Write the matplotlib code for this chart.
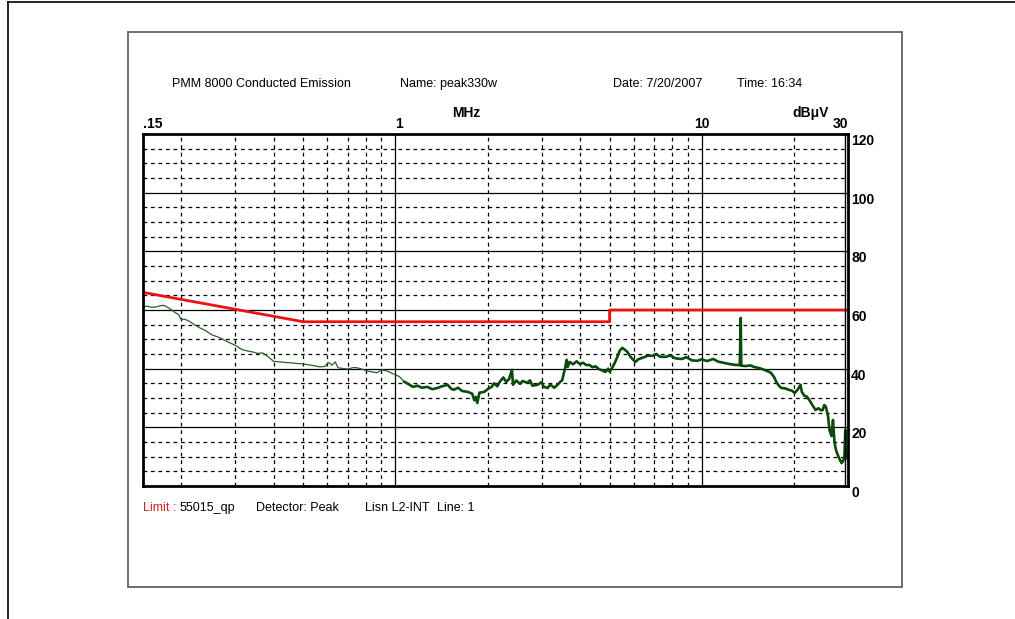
import numpy as np
import matplotlib
matplotlib.use('Agg')
from matplotlib import pyplot as plt
from matplotlib import transforms
from matplotlib.lines import Line2D
from matplotlib.patches import Rectangle

# 測定データ (MHz, dBuV) -- 画像から読み取り
freq_mhz = [0.150, 0.155, 0.160, 0.165, 0.170, 0.175, 0.180, 0.185, 0.190, 0.196,
            0.200, 0.205, 0.212, 0.220, 0.230, 0.240, 0.252, 0.260, 0.268, 0.278,
            0.288, 0.300, 0.310, 0.318, 0.330, 0.342, 0.355, 0.368, 0.378, 0.388,
            0.400, 0.420, 0.440, 0.453, 0.475, 0.500, 0.530, 0.567, 0.590, 0.600,
            0.609, 0.620, 0.636, 0.645, 0.650, 0.680, 0.700, 0.730, 0.750, 0.780,
            0.810, 0.840, 0.870, 0.900, 0.940, 0.970, 1.000, 1.030, 1.070, 1.100,
            1.140, 1.180, 1.220, 1.270, 1.320, 1.370, 1.420, 1.480, 1.520, 1.550,
            1.600, 1.650, 1.720, 1.780, 1.810, 1.830, 1.850, 1.880, 1.950, 2.000,
            2.060, 2.100, 2.150, 2.190, 2.250, 2.300, 2.350, 2.400, 2.420, 2.480,
            2.550, 2.600, 2.690, 2.750, 2.800, 2.910, 3.000, 3.050, 3.140, 3.200,
            3.300, 3.380, 3.450, 3.500, 3.550, 3.580, 3.620, 3.650, 3.700, 3.800,
            3.900, 4.000, 4.100, 4.200, 4.290, 4.400, 4.500, 4.610, 4.700, 4.850,
            4.950, 5.000, 5.100, 5.200, 5.300, 5.400, 5.500, 5.600, 5.720, 5.850,
            6.000, 6.070, 6.200, 6.400, 6.650, 6.900, 7.100, 7.300, 7.600, 7.900,
            8.200, 8.600, 8.900, 9.300, 9.700, 10.00, 10.40, 10.90, 11.30, 11.80,
            12.30, 12.80, 13.30, 13.40, 13.45, 13.90, 14.40, 14.80, 15.40, 16.00,
            16.50, 16.80, 17.20, 17.50, 17.90, 18.20, 18.70, 19.20, 19.70, 20.10,
            20.60, 21.00, 21.20, 21.60, 22.00, 22.40, 22.90, 23.50, 24.00, 24.50,
            24.80, 25.10, 25.40, 25.80, 26.10, 26.50, 26.80, 27.10, 27.40, 27.80,
            28.20, 28.60, 28.90, 29.20, 29.40, 29.60, 30.00]
level_dbuv = [61.1, 61.3, 60.9, 61.0, 61.4, 61.6, 61.0, 60.2, 59.3, 58.4,
              56.7, 56.9, 56.2, 55.1, 53.9, 53.0, 51.5, 51.0, 50.5, 49.6,
              48.8, 48.0, 47.0, 46.4, 46.0, 45.7, 45.2, 45.4, 44.6, 43.7,
              42.5, 42.3, 42.1, 42.0, 41.8, 41.6, 41.2, 40.6, 40.8, 41.9,
              42.0, 41.2, 42.3, 41.0, 40.3, 40.0, 39.9, 40.4, 40.3, 39.8,
              39.2, 38.9, 38.6, 39.6, 39.2, 38.5, 37.9, 37.3, 35.5, 34.8,
              33.8, 34.2, 33.5, 33.8, 33.0, 33.4, 34.0, 34.5, 33.2, 32.8,
              33.5, 32.4, 32.1, 31.5, 29.2, 30.4, 28.3, 31.8, 32.1, 33.0,
              33.8, 35.0, 34.0, 35.5, 37.0, 35.5, 36.5, 39.6, 34.5, 36.0,
              34.8, 35.8, 35.2, 36.0, 34.2, 34.5, 35.4, 33.8, 33.4, 34.6,
              33.5, 34.5, 35.5, 36.0, 38.8, 40.3, 43.0, 40.6, 42.3, 41.5,
              42.5, 41.6, 42.0, 41.2, 41.3, 40.5, 40.8, 39.9, 39.5, 38.9,
              40.0, 39.0, 40.3, 42.0, 44.0, 46.2, 47.1, 46.5, 45.7, 44.0,
              42.8, 42.3, 43.2, 43.7, 44.4, 44.4, 45.0, 44.1, 44.0, 44.5,
              43.5, 43.3, 43.9, 42.8, 42.7, 43.2, 42.6, 43.3, 42.4, 42.0,
              41.6, 41.3, 41.2, 57.3, 41.0, 40.9, 41.1, 40.6, 40.2, 39.6,
              39.0, 38.6, 37.2, 35.5, 34.0, 33.4, 33.3, 32.8, 32.5, 31.7,
              33.0, 34.5, 32.1, 30.8, 30.5, 29.4, 27.8, 25.9, 26.5, 25.8,
              25.9, 27.6, 27.0, 24.0, 19.1, 17.0, 22.5, 15.0, 12.3, 10.5,
              9.0, 7.8, 8.5, 9.9, 19.1, 10.5, 8.9]

# リミット 55015_qp
limit_f = [0.15, 0.5, 5.0, 5.0, 30.0]
limit_db = [66.0, 56.0, 56.0, 60.0, 60.0]

fig = plt.figure(figsize=(10.15, 6.19), dpi=100)
W, H = 1015, 619

def px(x, y):
    return x / W, 1 - y / H

# 外枠
fig.add_artist(Line2D([8 / W, 8 / W], [0, 1 - 2 / H], color='black', lw=1.2))
fig.add_artist(Line2D([8 / W, 1], [1 - 2 / H, 1 - 2 / H], color='black', lw=1.2))
fig.add_artist(Rectangle(px(128, 587), 774 / W, 555 / H, fill=False,
                         edgecolor='#555555', lw=1.2))

ax = fig.add_axes([143 / W, 1 - 486 / H, 705 / W, 352 / H])
ax.set_xscale('log')
ax.set_xlim(0.15, 30)
ax.set_ylim(0, 120)

# グリッド
minor_x = [0.2, 0.3, 0.4, 0.5, 0.6, 0.7, 0.8, 0.9,
           2, 3, 4, 5, 6, 7, 8, 9, 20]
for f in minor_x:
    ax.axvline(f, color='black', lw=0.9, ls=(0, (3, 3)))
for f in [1, 10]:
    ax.axvline(f, color='black', lw=0.9)
for v in range(5, 120, 5):
    if v % 20 == 0:
        ax.axhline(v, color='black', lw=0.9)
    else:
        ax.axhline(v, color='black', lw=0.9, ls=(0, (3, 3)))

# 低い周波数は細く、ノイズの多い高い周波数は太く
f_arr = np.array(freq_mhz)
l_arr = np.array(level_dbuv)
lo = f_arr <= 1.07
hi = f_arr >= 1.07
ax.plot(f_arr[lo], l_arr[lo], color='#2a5e2a', lw=0.9)
ax.plot(f_arr[hi], l_arr[hi], color='#0b4a0b', lw=1.9)
ax.plot(limit_f, limit_db, color='#ee1111', lw=2.0)

ax.set_xticks([])
ax.set_yticks([])
ax.minorticks_off()
for s in ax.spines.values():
    s.set_linewidth(2)
# 右側の二重線
tr = transforms.offset_copy(ax.transAxes, x=-3, y=0, units='dots', fig=fig)
ax.plot([1, 1], [0, 1], transform=tr, color='black', lw=1, clip_on=False)

bold = dict(family='Liberation Sans', fontsize=10, fontweight='bold')
reg = dict(family='Liberation Sans', fontsize=9)

# 右の目盛
for v in range(0, 121, 20):
    t = transforms.offset_copy(ax.transData, x=3, y=0, units='dots', fig=fig)
    ax.text(30, v, str(v), transform=t, ha='left', va='top', **bold)

# 上の目盛
xt = transforms.blended_transform_factory(ax.transData, ax.transAxes)
top = transforms.offset_copy(xt, x=0, y=3, units='dots', fig=fig)
ax.text(0.15, 1, '.15', transform=top, ha='left', va='bottom', **bold)
ax.text(1, 1, '1', transform=top, ha='left', va='bottom', **bold)
ax.text(10, 1, '10', transform=top, ha='center', va='bottom', **bold)
ax.text(30, 1, '30', transform=top, ha='right', va='bottom', **bold)
fig.text(452 / W, 1 - 120 / H, 'MHz', ha='left', va='bottom', **bold)
fig.text(792 / W, 1 - 120 / H, 'dBμV', ha='left', va='bottom', **bold)

# ヘッダー
fig.text(172 / W, 1 - 84 / H, 'PMM 8000 Conducted Emission', va='center', **reg)
fig.text(400 / W, 1 - 84 / H, 'Name: peak330w', va='center', **reg)
fig.text(613 / W, 1 - 84 / H, 'Date: 7/20/2007', va='center', **reg)
fig.text(737 / W, 1 - 84 / H, 'Time: 16:34', va='center', **reg)

# フッター
fig.text(143 / W, 1 - 508 / H, 'Limit :', va='center', color='#cc2222', **reg)
fig.text(180 / W, 1 - 508 / H, '55015_qp', va='center', **reg)
fig.text(256 / W, 1 - 508 / H, 'Detector: Peak', va='center', **reg)
fig.text(365 / W, 1 - 508 / H, 'Lisn L2-INT', va='center', **reg)
fig.text(437 / W, 1 - 508 / H, 'Line: 1', va='center', **reg)

fig.savefig('out.png', dpi=100)
